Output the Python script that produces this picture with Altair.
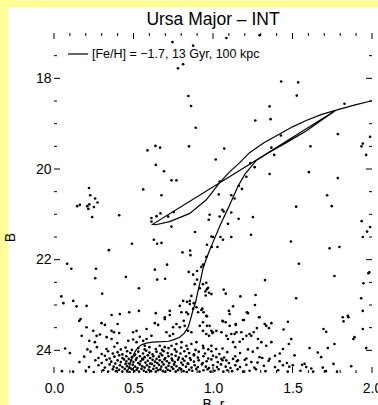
import altair as alt
import pandas as pd

# ---------------- data ----------------
# isochrone path (B-r, B) in drawing order: MS -> SGB -> RGB -> tip, back to HB, AGB
iso_x = [0.456, 0.468, 0.477, 0.49, 0.508, 0.525, 0.55, 0.58, 0.62, 0.68, 0.72, 0.75, 0.79, 0.82,
         0.845, 0.86, 0.875, 0.89, 0.905, 0.92, 0.937, 0.958, 0.98, 1.01, 1.05, 1.1, 1.157, 1.2,
         1.272, 1.35, 1.45, 1.586, 1.68, 1.775, 1.9, 1.994, 2.1,
         1.994, 1.9, 1.775, 1.2, 0.62,
         0.64, 0.728, 0.854, 0.958, 1.042, 1.1, 1.168, 1.23, 1.32, 1.419, 1.5, 1.586, 1.68, 1.775]
iso_B = [24.52, 24.4, 24.33, 24.18, 24.04, 23.95, 23.88, 23.84, 23.82, 23.81, 23.8, 23.77, 23.71, 23.62,
         23.48, 23.3, 23.1, 22.95, 22.7, 22.48, 22.2, 21.98, 21.78, 21.53, 21.2, 20.83, 20.38, 20.12,
         19.81, 19.64, 19.44, 19.16, 18.93, 18.7, 18.58, 18.5, 18.42,
         18.5, 18.58, 18.7, 19.96, 21.22,
         21.23, 21.16, 20.98, 20.68, 20.3, 20.08, 19.86, 19.64, 19.42, 19.23, 19.07, 18.93, 18.8, 18.7]
iso_label = "[Fe/H] = \u22121.7, 13 Gyr, 100 kpc"

upper_pts = [(0.745, 17.2), (0.875, 17.28), (1.084, 17.11), (1.293, 17.05), (0.78, 17.78), (0.812, 17.69),
             (0.845, 18.39), (0.862, 18.61), (0.891, 19.09), (0.849, 19.5), (0.588, 19.59), (0.638, 19.49),
             (0.667, 19.53), (0.64, 19.91), (0.692, 20.05), (0.739, 20.25), (0.77, 20.25), (0.22, 20.42),
             (0.561, 20.45), (1.429, 18.07), (1.536, 18.09), (1.527, 18.38), (1.827, 18.56), (1.356, 18.62),
             (1.362, 18.9), (1.266, 18.93), (1.427, 19.26), (1.785, 19.23), (1.071, 19.55), (1.367, 19.53),
             (1.613, 19.5), (1.385, 19.69), (1.942, 19.44), (1.934, 19.5), (1.988, 19.29), (1.963, 19.69),
             (1.017, 19.79), (1.235, 19.87), (1.262, 19.96), (1.356, 20.11), (1.603, 20.07), (1.785, 20.2),
             (1.042, 20.28), (1.21, 20.17), (1.163, 20.37), (1.182, 20.44)]

mid_pts = [(0.228, 20.58), (0.259, 20.65), (0.274, 20.74), (0.146, 20.82), (0.163, 20.79), (0.209, 20.82),
           (0.222, 20.78), (0.216, 20.88), (0.251, 20.84), (0.24, 21.06), (0.41, 21.02), (0.676, 20.58),
           (0.613, 21.08), (0.645, 21.04), (0.67, 20.98), (0.718, 21.05), (0.753, 20.95), (0.613, 21.16),
           (0.739, 21.27), (0.887, 21.39), (0.628, 21.56), (0.649, 21.65), (0.676, 21.63), (0.49, 21.65),
           (0.345, 21.79), (0.808, 21.84), (0.856, 21.8), (0.858, 21.9), (0.083, 22.09), (0.109, 22.2),
           (0.264, 22.2), (0.259, 22.41), (0.452, 22.38), (0.634, 22.22), (0.711, 22.11), (0.649, 22.44),
           (0.699, 22.42), (0.534, 22.63), (0.303, 22.75), (0.046, 22.81), (0.847, 22.27), (0.9, 22.25),
           (0.875, 22.33), (0.927, 22.16), (0.937, 22.11), (0.885, 22.54), (0.9, 22.44), (0.917, 22.63),
           (0.969, 22.62), (0.958, 22.51), (0.864, 22.8), (1.036, 20.56), (1.115, 20.58), (1.136, 20.65),
           (1.059, 20.9), (1.067, 20.94), (0.979, 21.01), (0.973, 21.12), (1.042, 21.05), (1.115, 20.96),
           (1.094, 21.21), (1.161, 21.1), (0.99, 21.49), (1.0, 21.5), (1.047, 21.5), (1.063, 21.56),
           (1.115, 21.5), (0.962, 21.67), (0.992, 21.72), (1.028, 21.72), (1.251, 21.06), (1.239, 21.45),
           (1.523, 20.83), (1.718, 20.58), (1.747, 20.82), (1.935, 21.15), (1.969, 21.38), (1.942, 21.5),
           (1.988, 21.28), (1.49, 21.6), (1.733, 21.75), (1.795, 21.72), (0.958, 21.94), (1.54, 22.09),
           (1.764, 22.36), (1.327, 22.45), (1.977, 22.3), (1.983, 22.28), (1.946, 22.52), (1.067, 22.66),
           (1.08, 22.75), (0.952, 22.7), (0.954, 22.79), (0.99, 22.76), (1.172, 22.81), (1.268, 22.78),
           (1.523, 22.85), (1.932, 22.85), (0.937, 22.54), (0.962, 22.65), (0.975, 22.73)]

lower_pts = [(0.059, 22.96), (0.121, 22.91), (0.142, 23.03), (0.205, 23.02), (0.167, 23.31), (0.159, 23.35),
             (0.362, 23.22), (0.414, 23.2), (0.473, 23.16), (0.534, 23.13), (0.4, 23.42), (0.299, 23.4),
             (0.32, 23.44), (0.362, 23.57), (0.377, 23.6), (0.41, 23.62), (0.205, 23.49), (0.247, 23.57),
             (0.174, 23.68), (0.268, 23.68), (0.289, 23.65), (0.222, 23.79), (0.257, 23.82), (0.331, 23.71),
             (0.362, 23.75), (0.398, 23.84), (0.498, 23.6), (0.519, 23.57), (0.54, 23.7), (0.582, 23.75),
             (0.613, 23.68), (0.634, 23.4), (0.655, 23.44), (0.582, 23.53), (0.697, 23.31), (0.728, 23.22),
             (0.791, 23.02), (0.812, 22.91), (0.854, 22.91), (0.879, 22.96), (0.833, 23.16), (0.843, 23.2),
             (0.896, 23.05), (0.906, 23.16), (0.77, 23.42), (0.749, 23.49), (0.791, 23.49), (0.822, 23.46),
             (0.843, 23.57), (0.864, 23.6), (0.707, 23.6), (0.728, 23.68), (0.749, 23.64), (0.917, 23.46),
             (0.937, 23.57), (0.958, 23.64), (0.979, 23.46), (1.0, 23.6), (0.467, 23.79), (0.498, 23.76),
             (0.519, 23.82), (0.561, 23.79), (0.571, 23.9), (0.665, 23.9), (0.697, 23.93), (0.739, 23.9),
             (0.77, 23.86), (0.802, 23.82), (0.833, 23.9), (0.864, 23.86), (0.896, 23.82), (0.937, 23.9),
             (0.99, 23.9), (1.02, 23.97), (0.837, 22.93), (0.854, 22.98), (0.875, 23.08), (0.933, 23.08),
             (0.941, 23.16), (0.958, 23.24), (0.801, 23.16), (0.816, 23.35), (0.728, 23.13), (0.697, 23.27),
             (0.64, 23.18), (1.1, 23.13), (1.213, 23.16), (1.293, 23.27), (1.059, 23.35), (1.08, 23.38),
             (1.105, 23.46), (1.143, 23.42), (1.195, 23.33), (0.937, 23.38), (0.962, 23.46), (0.99, 23.57),
             (1.053, 23.6), (1.084, 23.68), (1.136, 23.64), (1.178, 23.6), (1.23, 23.64), (1.256, 23.6),
             (1.942, 23.13), (1.264, 23.0), (1.126, 23.03), (1.22, 23.18), (1.105, 23.2), (0.927, 23.11),
             (0.962, 23.25), (1.188, 23.33), (1.063, 23.36), (1.143, 23.44), (1.289, 23.27), (1.325, 23.42),
             (1.367, 23.4), (1.471, 23.37), (1.276, 23.51), (1.352, 23.51), (1.335, 23.46), (1.444, 23.54),
             (1.816, 23.27), (1.848, 23.24), (1.821, 23.36), (1.852, 23.27), (1.942, 23.53), (1.89, 23.71),
             (1.883, 23.75), (1.695, 23.53), (1.712, 23.59), (1.021, 23.57), (0.996, 23.62), (0.975, 23.68),
             (1.115, 23.64), (1.147, 23.6), (1.21, 23.68), (1.241, 23.68), (1.094, 23.75), (1.126, 23.82),
             (1.168, 23.81), (1.188, 23.75), (1.283, 23.75), (1.304, 23.82), (1.335, 23.9), (1.367, 23.82),
             (1.492, 23.75), (1.477, 23.86), (1.607, 23.95), (1.722, 23.95), (1.764, 23.86), (1.963, 23.95)]

base_row_a = [(0.31, 24.44), (0.34, 24.47), (0.37, 24.42), (0.39, 24.46), (0.41, 24.43), (0.43, 24.47),
              (0.445, 24.41), (0.46, 24.45), (0.475, 24.48), (0.49, 24.42), (0.505, 24.46), (0.52, 24.43),
              (0.535, 24.47), (0.55, 24.41), (0.565, 24.45), (0.58, 24.48), (0.595, 24.43), (0.61, 24.46),
              (0.625, 24.41), (0.64, 24.47), (0.655, 24.44), (0.67, 24.42), (0.685, 24.46), (0.7, 24.48),
              (0.715, 24.43), (0.73, 24.45), (0.75, 24.41), (0.765, 24.47), (0.78, 24.44), (0.8, 24.42),
              (0.815, 24.46), (0.835, 24.48), (0.85, 24.43), (0.87, 24.45), (0.895, 24.41), (0.915, 24.47),
              (0.94, 24.44), (0.965, 24.42), (0.985, 24.47), (1.01, 24.45), (1.035, 24.42), (1.065, 24.47),
              (1.09, 24.44), (1.12, 24.46), (1.155, 24.42), (1.19, 24.47), (1.23, 24.45), (1.27, 24.42),
              (1.33, 24.46), (1.41, 24.44), (1.47, 24.47), (1.55, 24.45), (1.63, 24.47), (1.71, 24.46),
              (1.78, 24.47), (0.05, 24.46), (0.12, 24.47), (0.2, 24.45), (0.25, 24.48)]
base_row_b = [(0.22, 24.37), (0.28, 24.33), (0.32, 24.38), (0.35, 24.31), (0.375, 24.36), (0.395, 24.39),
              (0.415, 24.33), (0.43, 24.37), (0.45, 24.3), (0.46, 24.35), (0.48, 24.39), (0.495, 24.32),
              (0.51, 24.36), (0.525, 24.39), (0.54, 24.31), (0.555, 24.35), (0.57, 24.38), (0.585, 24.33),
              (0.6, 24.37), (0.615, 24.3), (0.63, 24.34), (0.645, 24.39), (0.66, 24.32), (0.675, 24.36),
              (0.69, 24.31), (0.705, 24.38), (0.72, 24.34), (0.74, 24.37), (0.755, 24.31), (0.77, 24.35),
              (0.79, 24.39), (0.81, 24.32), (0.83, 24.36), (0.845, 24.3), (0.865, 24.38), (0.885, 24.33),
              (0.905, 24.37), (0.93, 24.31), (0.955, 24.36), (0.975, 24.39), (1.0, 24.33), (1.025, 24.37),
              (1.05, 24.31), (1.08, 24.36), (1.11, 24.39), (1.14, 24.33), (1.17, 24.37), (1.21, 24.32),
              (1.26, 24.38), (1.32, 24.34), (1.39, 24.37), (1.48, 24.36), (1.56, 24.32), (1.69, 24.38)]
base_row_c = [(0.16, 24.26), (0.26, 24.22), (0.3, 24.28), (0.33, 24.21), (0.36, 24.25), (0.385, 24.29),
              (0.4, 24.22), (0.42, 24.26), (0.44, 24.2), (0.455, 24.24), (0.47, 24.29), (0.485, 24.22),
              (0.5, 24.26), (0.515, 24.21), (0.53, 24.28), (0.545, 24.24), (0.56, 24.2), (0.575, 24.27),
              (0.59, 24.23), (0.605, 24.29), (0.62, 24.21), (0.635, 24.25), (0.65, 24.28), (0.665, 24.22),
              (0.68, 24.26), (0.695, 24.2), (0.71, 24.24), (0.725, 24.28), (0.745, 24.22), (0.76, 24.26),
              (0.78, 24.21), (0.8, 24.27), (0.82, 24.23), (0.84, 24.29), (0.86, 24.21), (0.88, 24.25),
              (0.91, 24.22), (0.935, 24.28), (0.96, 24.24), (0.99, 24.2), (1.03, 24.26), (1.06, 24.22),
              (1.1, 24.28), (1.15, 24.24), (1.2, 24.21), (1.28, 24.27), (1.35, 24.23)]
base_row_d = [(0.19, 24.14), (0.28, 24.17), (0.32, 24.12), (0.35, 24.18), (0.38, 24.14), (0.41, 24.11),
              (0.43, 24.17), (0.455, 24.13), (0.47, 24.19), (0.49, 24.15), (0.505, 24.11), (0.52, 24.17),
              (0.54, 24.13), (0.555, 24.19), (0.57, 24.15), (0.59, 24.11), (0.605, 24.17), (0.625, 24.13),
              (0.645, 24.19), (0.66, 24.14), (0.68, 24.11), (0.7, 24.17), (0.72, 24.13), (0.74, 24.18),
              (0.765, 24.12), (0.785, 24.16), (0.81, 24.19), (0.83, 24.13), (0.855, 24.17), (0.88, 24.11),
              (0.905, 24.16), (0.94, 24.13), (0.97, 24.18), (1.0, 24.12), (1.07, 24.16), (1.14, 24.13),
              (1.31, 24.17), (1.39, 24.12)]
base_row_e = [(0.1, 24.06), (0.23, 24.03), (0.3, 24.08), (0.34, 24.02), (0.37, 24.07), (0.4, 24.04),
              (0.43, 24.09), (0.46, 24.02), (0.48, 24.06), (0.51, 24.09), (0.53, 24.03), (0.56, 24.07),
              (0.58, 24.01), (0.6, 24.05), (0.62, 24.09), (0.645, 24.03), (0.67, 24.07), (0.69, 24.02),
              (0.715, 24.06), (0.74, 24.09), (0.77, 24.03), (0.795, 24.07), (0.82, 24.02), (0.85, 24.06),
              (0.88, 24.09), (0.91, 24.03), (0.95, 24.07), (0.99, 24.02), (1.04, 24.08), (1.09, 24.04),
              (1.17, 24.06), (1.25, 24.03), (1.42, 24.07)]
base_row_f = [(0.07, 23.96), (0.21, 23.98), (0.27, 23.93), (0.33, 23.97), (0.38, 23.92), (0.42, 23.98),
              (0.45, 23.94), (0.49, 23.99), (0.53, 23.95), (0.57, 23.98), (0.6, 23.93), (0.64, 23.97),
              (0.68, 23.99), (0.72, 23.95), (0.76, 23.98), (0.8, 23.94), (0.84, 23.97), (0.89, 23.99),
              (0.94, 23.95), (0.97, 23.98), (1.06, 23.96), (1.14, 23.93), (1.22, 23.98), (1.28, 23.95),
              (1.44, 23.97)]
base_right = [(1.021, 24.15), (1.053, 24.19), (1.084, 24.22), (1.126, 24.19), (1.157, 24.22), (1.21, 24.18),
              (1.241, 24.26), (1.293, 24.15), (1.356, 24.19), (1.419, 24.24), (1.44, 24.33), (1.465, 24.28),
              (1.502, 24.33), (1.513, 24.11), (1.659, 24.05), (1.68, 24.15), (1.758, 24.3), (1.576, 24.3),
              (1.586, 24.37), (1.618, 24.4), (1.869, 24.35)]

x_major_ticks = [0.0, 0.5, 1.0, 1.5, 2.0]
x_minor_ticks = [0.1, 0.2, 0.3, 0.4, 0.6, 0.7, 0.8, 0.9, 1.1, 1.2, 1.3, 1.4, 1.6, 1.7, 1.8, 1.9]
y_major_ticks = [18, 20, 22, 24]
y_minor_ticks = [17.5, 18.5, 19.0, 19.5, 20.5, 21.0, 21.5, 22.5, 23.0, 23.5]

# ---------------- build ----------------
FONT = "Liberation Sans"
W, H = 318, 340

pts = (upper_pts + mid_pts + lower_pts + base_row_a + base_row_b + base_row_c + base_row_d
       + base_row_e + base_row_f + base_right)
pts_df = pd.DataFrame(pts, columns=["br", "B"])
iso_df = pd.DataFrame({"br": iso_x, "B": iso_B, "order": list(range(len(iso_x))),
                       "label": [iso_label] * len(iso_x)})

xs = alt.Scale(domain=[0, 2.0], nice=False, zero=False)
ys = alt.Scale(domain=[17.0, 24.5], nice=False, zero=False, reverse=True)

x_axis = alt.Axis(values=x_major_ticks, format=".1f", ticks=False, domain=False, grid=False,
                  labelFontSize=14, labelFont=FONT, labelPadding=8, labelColor="black",
                  title="B\u2013r", titleFont=FONT, titleFontSize=14, titleFontWeight="normal",
                  titlePadding=2, titleColor="black", labelFlush=False, zindex=2)
y_axis = alt.Axis(values=y_major_ticks, format="d", ticks=False, domain=False, grid=False,
                  labelFontSize=14, labelFont=FONT, labelPadding=3, labelColor="black",
                  title="B", titleFont=FONT, titleFontSize=14, titleFontWeight="normal",
                  titleX=-37, titleY=204, titleColor="black", labelFlush=False, zindex=2)

X = alt.X("br:Q", scale=xs, axis=x_axis)
Y = alt.Y("B:Q", scale=ys, axis=y_axis)

white = alt.Chart(alt.Data(values=[{"a": 1}])).mark_rect(color="white", clip=False).encode(
    x=alt.value(-46), x2=alt.value(W + 40), y=alt.value(-26), y2=alt.value(H + 60))

points = alt.Chart(pts_df).mark_circle(size=7, color="black", opacity=1, clip=True).encode(x=X, y=Y)

line = alt.Chart(iso_df).mark_line(strokeWidth=1.2, clip=True).encode(
    x=X, y=Y, order="order:Q",
    color=alt.Color("label:N", scale=alt.Scale(range=["black"]),
                    legend=alt.Legend(title=None, orient="none", legendX=13, legendY=10,
                                      symbolType="stroke", symbolSize=400, symbolStrokeWidth=1.2,
                                      symbolStrokeColor="black", labelFontSize=12.5, labelFont=FONT,
                                      labelColor="black", padding=0, labelOffset=3, labelLimit=400,
                                      zindex=2)))

def xt(vals, y0, y1):
    return alt.Chart(pd.DataFrame({"br": vals})).mark_rule(color="black", strokeWidth=1).encode(
        x=X, y=alt.value(y0), y2=alt.value(y1))

def yt(vals, x0, x1):
    return alt.Chart(pd.DataFrame({"B": vals})).mark_rule(color="black", strokeWidth=1).encode(
        y=Y, x=alt.value(x0), x2=alt.value(x1))

ticks = [xt(x_major_ticks, H, H - 6), xt(x_major_ticks, 0, 6),
         xt(x_minor_ticks, H, H - 3), xt(x_minor_ticks, 0, 3),
         yt(y_major_ticks, 0, 6), yt(y_major_ticks, W, W - 6),
         yt(y_minor_ticks, 0, 3), yt(y_minor_ticks, W, W - 3)]

chart = alt.layer(white, points, line, *ticks).properties(
    width=W, height=H,
    title=alt.TitleParams("Ursa Major \u2013 INT", font=FONT, fontSize=17.5, fontWeight="normal",
                          color="black", anchor="middle", offset=0, dy=21),
    background="#FFFF99",
    padding={"left": 54, "top": 33, "right": 6, "bottom": 32},
    autosize=alt.AutoSizeParams(type="none"),
).configure_view(stroke="black", strokeWidth=1)

chart.save("out.html", embed_options={"renderer": "svg", "actions": False})
